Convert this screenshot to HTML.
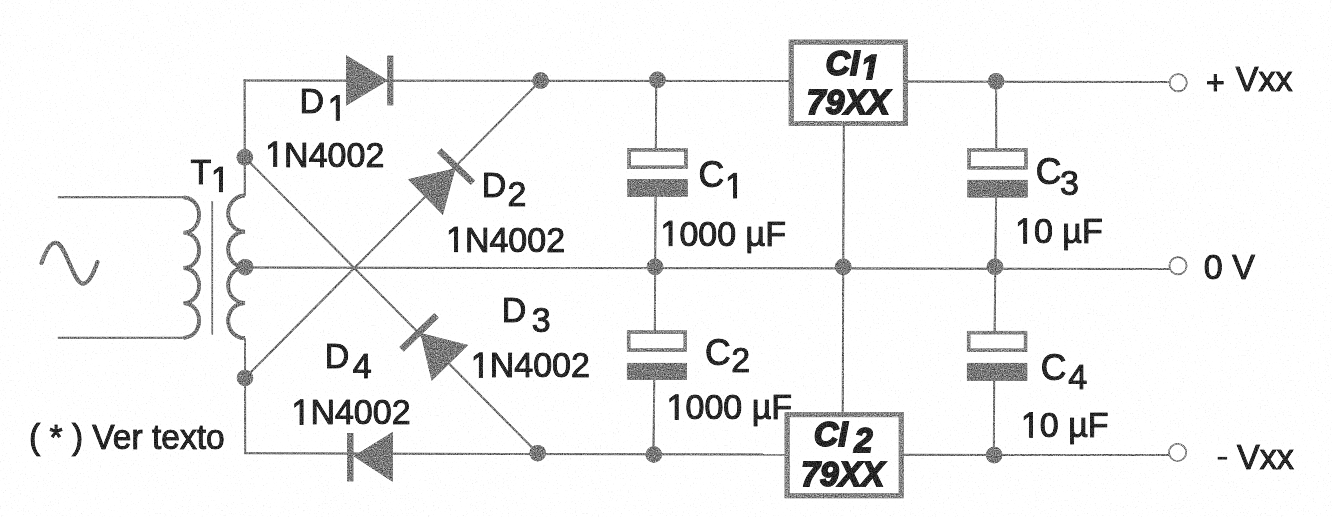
<!DOCTYPE html>
<html><head><meta charset="utf-8"><title>Fonte simetrica 79XX</title>
<style>
html,body{margin:0;padding:0;background:#fefefe;}
body{width:1332px;height:517px;overflow:hidden;}
svg{display:block;}
text{font-family:"Liberation Sans",sans-serif;fill:#272727;stroke:#272727;stroke-width:1.1px;}
.b{font-weight:bold;font-style:italic;stroke-width:1.9px;}
.h{fill:none;stroke:none;}
</style></head><body>
<svg width="1332" height="517" viewBox="0 0 1332 517">
<defs>
<filter id="grain" x="0" y="0" width="1332" height="517" filterUnits="userSpaceOnUse" color-interpolation-filters="sRGB">
<feTurbulence type="fractalNoise" baseFrequency="0.85" numOctaves="2" seed="11" result="n"/>
<feColorMatrix in="n" type="matrix" values="1 0 0 0 0 1 0 0 0 0 1 0 0 0 0 0 0 0 0 1" result="ng"/>
<feGaussianBlur in="SourceGraphic" stdDeviation="0.45" result="b"/>
<feComposite in="b" in2="ng" operator="arithmetic" k1="0" k2="1" k3="0.9" k4="-0.45" result="m"/>
<feComposite in="m" in2="b" operator="in"/>
</filter>
<filter id="tgrain" x="0" y="0" width="1332" height="517" filterUnits="userSpaceOnUse" color-interpolation-filters="sRGB">
<feTurbulence type="fractalNoise" baseFrequency="0.8" numOctaves="2" seed="5" result="n"/>
<feColorMatrix in="n" type="matrix" values="1 0 0 0 0 1 0 0 0 0 1 0 0 0 0 0 0 0 0 1" result="ng"/>
<feGaussianBlur in="SourceGraphic" stdDeviation="0.45" result="b"/>
<feComposite in="b" in2="ng" operator="arithmetic" k1="0" k2="1" k3="0.5" k4="-0.25" result="m"/>
<feComposite in="m" in2="b" operator="in"/>
</filter>
<filter id="paper" x="0" y="0" width="1332" height="517" filterUnits="userSpaceOnUse" color-interpolation-filters="sRGB">
<feTurbulence type="fractalNoise" baseFrequency="0.6" numOctaves="3" seed="2" result="n"/>
<feColorMatrix in="n" type="matrix" values="0.3 0 0 0 0.895 0.3 0 0 0 0.895 0.3 0 0 0 0.895 0 0 0 0 1"/>
</filter>
</defs>
<rect width="1332" height="517" fill="#fefefe"/>
<rect width="1332" height="517" filter="url(#paper)"/>
<g filter="url(#grain)">
<line x1="57.8" y1="197.3" x2="184" y2="197.3" stroke="#787878" stroke-width="2"/>
<line x1="57.8" y1="337.8" x2="184" y2="337.8" stroke="#787878" stroke-width="2"/>
<line x1="212.3" y1="201" x2="212.3" y2="334.5" stroke="#787878" stroke-width="1.6"/>
<line x1="244.6" y1="79.5" x2="244.8" y2="196" stroke="#787878" stroke-width="2"/>
<line x1="245" y1="338" x2="245.2" y2="454" stroke="#787878" stroke-width="2"/>
<line x1="243.6" y1="80.4" x2="789" y2="81.1" stroke="#787878" stroke-width="2"/>
<line x1="907.5" y1="81.4" x2="1169.5" y2="82" stroke="#787878" stroke-width="2"/>
<line x1="245" y1="267.5" x2="1169.5" y2="269" stroke="#787878" stroke-width="2"/>
<line x1="244.2" y1="453.3" x2="785" y2="454.6" stroke="#787878" stroke-width="2"/>
<line x1="903.4" y1="454.8" x2="1169" y2="455" stroke="#787878" stroke-width="2"/>
<line x1="244.7" y1="157.3" x2="537.7" y2="453.2" stroke="#787878" stroke-width="2"/>
<line x1="245" y1="378" x2="540.6" y2="80.6" stroke="#787878" stroke-width="2"/>
<line x1="656.3" y1="80" x2="655.8" y2="149" stroke="#787878" stroke-width="2"/>
<line x1="655.6" y1="196" x2="654.8" y2="331" stroke="#787878" stroke-width="2"/>
<line x1="654.3" y1="379" x2="653.4" y2="454.5" stroke="#787878" stroke-width="2"/>
<line x1="996.1" y1="81" x2="996.3" y2="149" stroke="#787878" stroke-width="2"/>
<line x1="996.1" y1="197" x2="994.6" y2="332" stroke="#787878" stroke-width="2"/>
<line x1="994.2" y1="380" x2="993.8" y2="455" stroke="#787878" stroke-width="2"/>
<line x1="843.8" y1="125" x2="842.7" y2="413" stroke="#787878" stroke-width="2"/>
<path d="M183.6,197.3 C204.2,198.3 204.2,231.6 183.6,232.6 C204.2,233.6 204.2,267 183.6,268 C204.2,269 204.2,302.2 183.6,303.2 C204.2,304.2 204.2,336.8 183.6,337.8" fill="none" stroke="#787878" stroke-width="3.8" stroke-linejoin="miter"/>
<path d="M245,195.5 C222.6,196.5 222.6,230.6 245,231.6 C222.6,232.6 222.6,266.3 245,267.3 C222.6,268.3 222.6,302 245,303 C222.6,304 222.6,337.2 245,338.2" fill="none" stroke="#787878" stroke-width="3.8" stroke-linejoin="miter"/>
<path d="M41.5,263 C46,250 51,241 57,243 C66,246 73,281 82,283.5 C88,285 93,275 97.5,262" fill="none" stroke="#787878" stroke-width="4" stroke-linecap="round"/>
<circle cx="244.8" cy="157.3" r="8.3" fill="#7a7a7a"/>
<circle cx="245.2" cy="267.2" r="8.3" fill="#7a7a7a"/>
<circle cx="245" cy="378" r="8.3" fill="#7a7a7a"/>
<circle cx="540.6" cy="80.6" r="8.3" fill="#7a7a7a"/>
<circle cx="537.7" cy="453.2" r="8.3" fill="#7a7a7a"/>
<circle cx="657.4" cy="79.8" r="8.3" fill="#7a7a7a"/>
<circle cx="655" cy="266.8" r="8.3" fill="#7a7a7a"/>
<circle cx="653.8" cy="454.5" r="8.3" fill="#7a7a7a"/>
<circle cx="996.1" cy="81.3" r="8.3" fill="#7a7a7a"/>
<circle cx="995" cy="266.8" r="8.3" fill="#7a7a7a"/>
<circle cx="994.2" cy="455.1" r="8.3" fill="#7a7a7a"/>
<circle cx="843.2" cy="266.8" r="8.3" fill="#7a7a7a"/>
<circle cx="1178.2" cy="82.8" r="8.6" fill="none" stroke="#8a8a8a" stroke-width="1.7"/>
<circle cx="1178" cy="265.8" r="8.6" fill="none" stroke="#8a8a8a" stroke-width="1.7"/>
<circle cx="1177.6" cy="452.4" r="8.6" fill="none" stroke="#8a8a8a" stroke-width="1.7"/>
<rect x="629.15" y="149.85" width="56.80000000000007" height="17.400000000000006" fill="none" stroke="#868686" stroke-width="3.5"/>
<rect x="627.4" y="179" width="60.30000000000007" height="17.80000000000001" fill="#7a7a7a"/>
<rect x="628.65" y="332.15" width="56.60000000000002" height="17.900000000000034" fill="none" stroke="#868686" stroke-width="3.5"/>
<rect x="626.9" y="362.9" width="60.10000000000002" height="17.0" fill="#7a7a7a"/>
<rect x="969.15" y="149.85" width="56.80000000000007" height="17.900000000000006" fill="none" stroke="#868686" stroke-width="3.5"/>
<rect x="967.4" y="179.9" width="60.30000000000007" height="17.599999999999994" fill="#7a7a7a"/>
<rect x="968.65" y="332.65" width="56.89999999999998" height="17.600000000000023" fill="none" stroke="#868686" stroke-width="3.5"/>
<rect x="966.9" y="362.9" width="60.39999999999998" height="17.900000000000034" fill="#7a7a7a"/>
<polygon points="346.0,55.0 346.0,105.8 388.0,80.5" fill="#7a7a7a"/>
<rect x="387.3" y="55.6" width="6" height="49.8" fill="#7a7a7a"/>
<polygon points="392.9,431.7 392.9,482.0 353.5,456.2" fill="#7a7a7a"/>
<rect x="347" y="433" width="6.4" height="48.4" fill="#7a7a7a"/>
<polygon points="407.7,179.3 442.9,215.1 455.5,168.3" fill="#7a7a7a"/>
<line x1="439.3" y1="150.6" x2="473" y2="182.8" stroke="#7a7a7a" stroke-width="6.4"/>
<polygon points="468.3,345.1 431.6,380.9 420.4,333.0" fill="#7a7a7a"/>
<line x1="401.5" y1="349.4" x2="436.6" y2="315.4" stroke="#7a7a7a" stroke-width="6.4"/>
<rect x="791.2" y="42.1" width="114.2" height="81.4" fill="none" stroke="#868686" stroke-width="5"/>
<rect x="787.1" y="414.7" width="114.1" height="81.1" fill="none" stroke="#868686" stroke-width="5"/>
</g>
<g filter="url(#tgrain)">
<text transform="translate(190.6,183.6) scale(1,1.05)" font-size="34">T</text>
<path transform="translate(210.9,191.6) scale(0.016602,-0.017432)" d="M515,0V1237L197,1010V1180L530,1409H696V0Z" fill="#272727" stroke="#272727" stroke-width="66.3"/>
<text transform="translate(210.9,191.6) scale(1,1.05)" font-size="34"><tspan class="h">1</tspan></text>
<text transform="translate(299.6,113.3) scale(1,1.05)" font-size="34">D</text>
<path transform="translate(327.7,120.2) scale(0.016602,-0.017432)" d="M515,0V1237L197,1010V1180L530,1409H696V0Z" fill="#272727" stroke="#272727" stroke-width="66.3"/>
<text transform="translate(327.7,120.2) scale(1,1.05)" font-size="34"><tspan class="h">1</tspan></text>
<path transform="translate(265.2,166.5) scale(0.016602,-0.017432)" d="M515,0V1237L197,1010V1180L530,1409H696V0Z" fill="#272727" stroke="#272727" stroke-width="66.3"/>
<text transform="translate(265.2,166.5) scale(1,1.05)" font-size="34"><tspan class="h">1</tspan>N4002</text>
<text transform="translate(481.7,197.3) scale(1,1.05)" font-size="34">D</text>
<text transform="translate(507.6,205.6) scale(1,1.05)" font-size="34">2</text>
<path transform="translate(446.0,251.6) scale(0.016602,-0.017432)" d="M515,0V1237L197,1010V1180L530,1409H696V0Z" fill="#272727" stroke="#272727" stroke-width="66.3"/>
<text transform="translate(446.0,251.6) scale(1,1.05)" font-size="34"><tspan class="h">1</tspan>N4002</text>
<text transform="translate(501.7,321.9) scale(1,1.05)" font-size="34">D</text>
<text transform="translate(531.8,331.9) scale(1,1.05)" font-size="34">3</text>
<path transform="translate(470.8,377.4) scale(0.016602,-0.017432)" d="M515,0V1237L197,1010V1180L530,1409H696V0Z" fill="#272727" stroke="#272727" stroke-width="66.3"/>
<text transform="translate(470.8,377.4) scale(1,1.05)" font-size="34"><tspan class="h">1</tspan>N4002</text>
<text transform="translate(324.8,368.3) scale(1,1.05)" font-size="34">D</text>
<text transform="translate(352.8,377.9) scale(1,1.05)" font-size="34">4</text>
<path transform="translate(291.5,424.4) scale(0.016602,-0.017432)" d="M515,0V1237L197,1010V1180L530,1409H696V0Z" fill="#272727" stroke="#272727" stroke-width="66.3"/>
<text transform="translate(291.5,424.4) scale(1,1.05)" font-size="34"><tspan class="h">1</tspan>N4002</text>
<text transform="translate(698.5,187.4) scale(1,1.05)" font-size="35.5">C</text>
<path transform="translate(725.0,198) scale(0.016602,-0.017432)" d="M515,0V1237L197,1010V1180L530,1409H696V0Z" fill="#272727" stroke="#272727" stroke-width="66.3"/>
<text transform="translate(725.0,198) scale(1,1.05)" font-size="34"><tspan class="h">1</tspan></text>
<path transform="translate(660.5,245.6) scale(0.016602,-0.017432)" d="M515,0V1237L197,1010V1180L530,1409H696V0Z" fill="#272727" stroke="#272727" stroke-width="66.3"/>
<text transform="translate(660.5,245.6) scale(1,1.05)" font-size="34"><tspan class="h">1</tspan>000 µF</text>
<text transform="translate(705.0,364.6) scale(1,1.05)" font-size="35.5">C</text>
<text transform="translate(731.3,371.5) scale(1,1.05)" font-size="34">2</text>
<path transform="translate(666.6,419.3) scale(0.016602,-0.017432)" d="M515,0V1237L197,1010V1180L530,1409H696V0Z" fill="#272727" stroke="#272727" stroke-width="66.3"/>
<text transform="translate(666.6,419.3) scale(1,1.05)" font-size="34"><tspan class="h">1</tspan>000 µF</text>
<text transform="translate(1035.7,184) scale(1,1.05)" font-size="35.5">C</text>
<text transform="translate(1060.1,195.3) scale(1,1.05)" font-size="34">3</text>
<path transform="translate(1015.1,243.2) scale(0.016602,-0.017432)" d="M515,0V1237L197,1010V1180L530,1409H696V0Z" fill="#272727" stroke="#272727" stroke-width="66.3"/>
<text transform="translate(1015.1,243.2) scale(1,1.05)" font-size="34"><tspan class="h">1</tspan>0 µF</text>
<text transform="translate(1040.8,380.2) scale(1,1.05)" font-size="35.5">C</text>
<text transform="translate(1068.2,388.9) scale(1,1.05)" font-size="34">4</text>
<path transform="translate(1020.9,437.2) scale(0.016602,-0.017432)" d="M515,0V1237L197,1010V1180L530,1409H696V0Z" fill="#272727" stroke="#272727" stroke-width="66.3"/>
<text transform="translate(1020.9,437.2) scale(1,1.05)" font-size="34"><tspan class="h">1</tspan>0 µF</text>
<text transform="translate(1206.0,93.6) scale(1,1.05)" font-size="32">+</text>
<text transform="translate(1235.8,90.7) scale(1,1.05)" font-size="34">Vxx</text>
<text transform="translate(1203.8,278.9) scale(1,1.05)" font-size="34">0 V</text>
<text transform="translate(1216.3,468.5) scale(1,1.05)" font-size="34"><tspan class="h">-</tspan> Vxx</text>
<rect x="1217.6" y="456.8" width="9.6" height="2.8" fill="#272727"/>
<text transform="translate(29.1,448.6) scale(1,1.05)" font-size="34" textLength="195.5" lengthAdjust="spacingAndGlyphs">( * ) Ver texto</text>
<text transform="translate(825.4,75) scale(1,1.05)" font-size="34" class="b">CI</text>
<path transform="translate(860.9,79) scale(0.016113,-0.016919)" d="M380,0L604,1152L223,938L270,1180L666,1409H936L661,0Z" fill="#272727" stroke="#272727" stroke-width="117.9"/>
<text transform="translate(860.9,79) scale(1,1.05)" font-size="33" class="b"><tspan class="h">1</tspan></text>
<text transform="translate(806.6,114.3) scale(1,1.05)" font-size="34" class="b">79XX</text>
<text transform="translate(813.7,446) scale(1,1.05)" font-size="34" class="b">CI</text>
<text transform="translate(854.2,452) scale(1,1.05)" font-size="33" class="b">2</text>
<text transform="translate(800.9,486) scale(1,1.05)" font-size="34" class="b">79XX</text>
</g>
</svg>
</body></html>
